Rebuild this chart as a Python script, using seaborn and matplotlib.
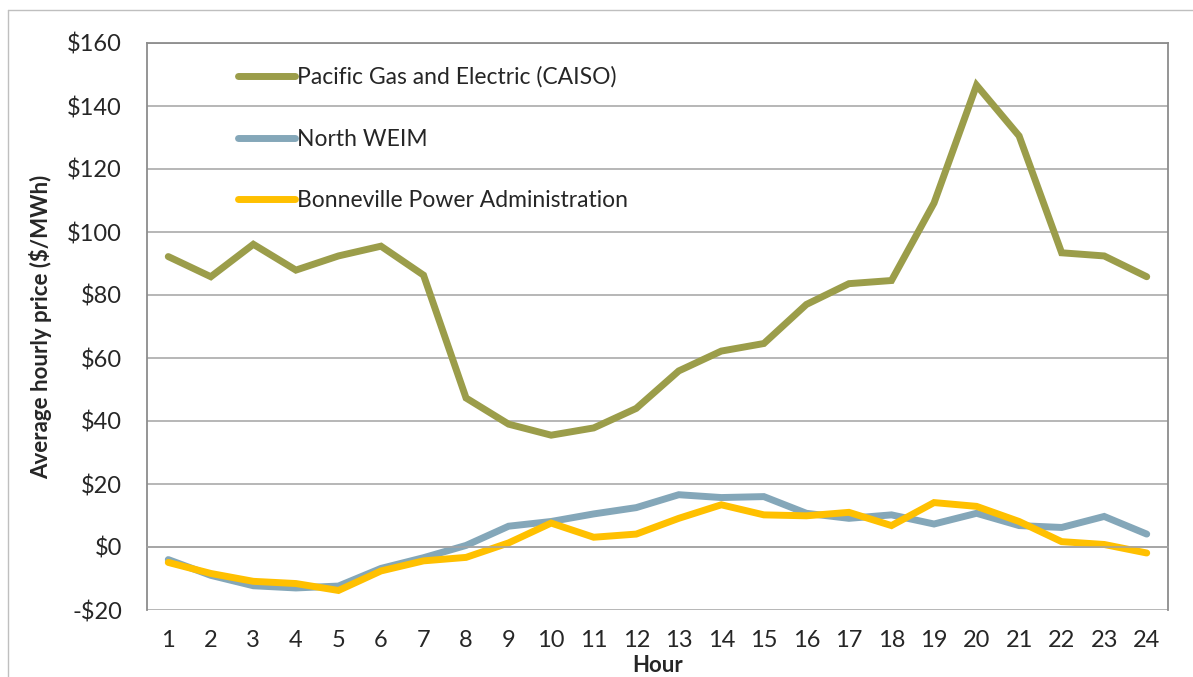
import pandas as pd
import seaborn as sns
import numpy as np
import matplotlib.pyplot as plt
from matplotlib.lines import Line2D
from matplotlib.ticker import FixedLocator, FuncFormatter

hours = list(range(1, 25))
pge = [92.2, 85.8, 96.1, 87.9, 92.4, 95.5, 86.3, 47.3, 39.0, 35.5, 37.8, 44.0,
       55.9, 62.2, 64.6, 77.0, 83.6, 84.6, 109.2, 146.6, 130.5, 93.4, 92.4, 85.8]
weim = [-4.0, -9.0, -12.3, -13.0, -12.4, -6.8, -3.4, 0.5, 6.6, 8.1, 10.5, 12.5,
        16.6, 15.7, 16.0, 10.7, 9.1, 10.2, 7.3, 10.7, 6.8, 6.2, 9.7, 4.1]
bpa = [-4.9, -8.4, -10.9, -11.6, -13.8, -7.6, -4.4, -3.3, 1.3, 7.6, 3.1, 4.1,
       9.1, 13.4, 10.2, 9.9, 11.0, 6.8, 14.1, 12.9, 8.1, 1.7, 0.8, -1.9]
names = ["Pacific Gas and Electric (CAISO)", "North WEIM", "Bonneville Power Administration"]
colors = ["#9b9d4a", "#84a7b9", "#ffc000"]

df = pd.DataFrame({
    "Hour": hours * 3,
    "Price": pge + weim + bpa,
    "Series": [names[0]] * 24 + [names[1]] * 24 + [names[2]] * 24,
})

sns.set_style("white")
plt.rcParams["font.family"] = ["Lato", "DejaVu Sans"]

fig = plt.figure(figsize=(11.93, 6.77), dpi=100)
ax = fig.add_axes([147 / 1193, 1 - 610 / 677, (1168 - 147) / 1193, (610 - 43) / 677])

sns.lineplot(data=df, x="Hour", y="Price", hue="Series", hue_order=names,
             palette=colors, linewidth=5, ax=ax, legend=False)
for ln in ax.get_lines():
    ln.set_solid_capstyle("round")
    ln.set_solid_joinstyle("miter")

ax.set_xlim(0.5, 24.5)
ax.set_ylim(-20, 160)
ax.set_yticks(np.arange(-20, 161, 20))
ax.yaxis.set_major_formatter(FuncFormatter(lambda v, p: f"-${-v:.0f}" if v < 0 else f"${v:.0f}"))
ax.yaxis.grid(True, color="#a3a3a3", linewidth=1.1)
ax.set_axisbelow(True)

ax.set_xticks(hours)
ax.xaxis.set_minor_locator(FixedLocator(np.arange(1.5, 24.5, 1)))
ax.spines["bottom"].set_position(("data", 0))
for s in ax.spines.values():
    s.set_color("#8c8c8c")
    s.set_linewidth(1.3)
ax.spines["bottom"].set_color("#a3a3a3")
ax.spines["bottom"].set_linewidth(1.1)
ax.tick_params(axis="x", which="major", length=0, pad=60, labelsize=17)
ax.tick_params(axis="x", which="minor", length=6, width=1.1, color="#a3a3a3", direction="out")
ax.tick_params(axis="y", which="major", length=6, width=1.1, color="#8c8c8c", labelsize=17, pad=12)

ax.set_xlabel("Hour", fontsize=16, fontweight="bold", labelpad=3)
ax.set_ylabel("Average hourly price ($/MWh)", fontsize=16, fontweight="bold", labelpad=11)

handles = [Line2D([0], [0], color=c, linewidth=5, solid_capstyle="round") for c in colors]
ax.legend(handles, names, loc="upper left", bbox_to_anchor=(0.069, 0.995), frameon=False,
          fontsize=16.5, handlelength=2.5, handletextpad=0.05, labelspacing=1.77)

# outer chart frame
fig.add_artist(Line2D([8 / 1193, 8 / 1193], [0, 1 - 10 / 677], color="#bfbfbf", linewidth=1))
fig.add_artist(Line2D([8 / 1193, 1], [1 - 10 / 677, 1 - 10 / 677], color="#bfbfbf", linewidth=1))

plt.savefig("out.png", dpi=100)
